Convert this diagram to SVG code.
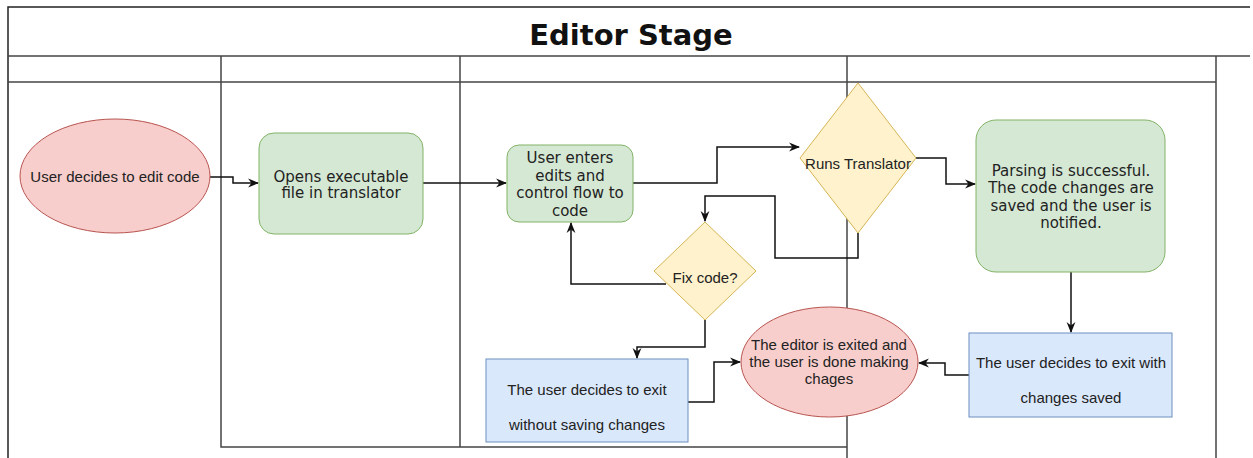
<svg xmlns="http://www.w3.org/2000/svg" width="1253" height="458" viewBox="0 0 1253 458">
<style>
.lane{stroke:#444;stroke-width:1.5;fill:none}
.frame{stroke:#222;stroke-width:1.5;fill:none}
.conn{stroke:#111;stroke-width:1.5;fill:none}
.red{fill:#f8cecc;stroke:#b85450;stroke-width:1}
.green{fill:#d5e8d4;stroke:#82b366;stroke-width:1}
.blue{fill:#dae8fc;stroke:#6c8ebf;stroke-width:1}
.yellow{fill:#fff2cc;stroke:#d6b656;stroke-width:1}
.t{font-family:"Liberation Sans",Arial,sans-serif;font-size:15px;fill:#222;text-anchor:middle}
.d{font-family:"DejaVu Sans",Verdana,sans-serif;font-size:15px;fill:#222;text-anchor:middle}
.title{font-family:"DejaVu Sans",Verdana,sans-serif;font-size:29px;font-weight:bold;fill:#111;text-anchor:middle}
</style>
<defs>
<marker id="arr" viewBox="0 0 10 10" refX="9" refY="5" markerWidth="11" markerHeight="11" markerUnits="userSpaceOnUse" orient="auto">
<path d="M0,1 L10,5 L0,9 L3,5 Z" fill="#111"/>
</marker>
</defs>
<rect x="0" y="0" width="1253" height="458" fill="#fff"/>
<g id="pool">
<path class="frame" d="M1250,7 H8 V458"/>
<path class="lane" d="M8,56 H1250"/>
<path class="lane" d="M8,82 H1216"/>
<path class="lane" d="M221,56 V447 H847"/>
<path class="lane" d="M460,56 V447"/>
<path class="lane" d="M847,56 V458"/>
<path class="lane" d="M1216,56 V458"/>
<text class="title" x="631" y="45">Editor Stage</text>
</g>
<g id="connectors">
<path class="conn" d="M210,177 H233 V183 H258" marker-end="url(#arr)"/>
<path class="conn" d="M423,183 H506" marker-end="url(#arr)"/>
<path class="conn" d="M633,183 H717 V147 H799" marker-end="url(#arr)"/>
<path class="conn" d="M916,158 H946 V184 H975" marker-end="url(#arr)"/>
<path class="conn" d="M858,233 V258 H775 V196 H705 V221" marker-end="url(#arr)"/>
<path class="conn" d="M666,284 H571 V223" marker-end="url(#arr)"/>
<path class="conn" d="M705,320 V347 H637 V358" marker-end="url(#arr)"/>
<path class="conn" d="M688,402 H714 V362 H740" marker-end="url(#arr)"/>
<path class="conn" d="M1071,272 V332" marker-end="url(#arr)"/>
<path class="conn" d="M969,375 H945 V363 H919" marker-end="url(#arr)"/>
</g>
<g id="start">
<ellipse class="red" cx="115" cy="176" rx="95" ry="57"/>
<text class="t" x="115" y="182">User decides to edit code</text>
</g>
<g id="opens">
<rect class="green" x="259" y="133" width="164" height="101" rx="15"/>
<text class="d" x="341" y="182">Opens executable</text>
<text class="d" x="341" y="198">file in translator</text>
</g>
<g id="edits">
<rect class="green" x="507" y="145" width="126" height="77" rx="12"/>
<text class="d" x="570" y="163">User enters</text>
<text class="d" x="570" y="181">edits and</text>
<text class="d" x="570" y="198">control flow to</text>
<text class="d" x="570" y="216">code</text>
</g>
<g id="runs">
<polygon class="yellow" points="858,83 916,158 858,233 800,158"/>
<text class="t" x="858" y="169">Runs Translator</text>
</g>
<g id="fix">
<polygon class="yellow" points="705,222 756,271 705,320 654,271"/>
<text class="t" x="705" y="283">Fix code?</text>
</g>
<g id="parsing">
<rect class="green" x="976" y="120" width="189" height="152" rx="20"/>
<text class="d" x="1071" y="176">Parsing is successful.</text>
<text class="d" x="1071" y="193">The code changes are</text>
<text class="d" x="1071" y="211">saved and the user is</text>
<text class="d" x="1071" y="228">notified.</text>
</g>
<g id="exitNoSave">
<rect class="blue" x="486" y="359" width="202" height="83"/>
<text class="t" x="587" y="395">The user decides to exit</text>
<text class="t" x="587" y="430">without saving changes</text>
</g>
<g id="exitSave">
<rect class="blue" x="969" y="333" width="203" height="84"/>
<text class="t" x="1071" y="368">The user decides to exit with</text>
<text class="t" x="1071" y="403">changes saved</text>
</g>
<g id="end">
<ellipse class="red" cx="829.5" cy="362" rx="88.5" ry="55"/>
<text class="t" x="829" y="350">The editor is exited and</text>
<text class="t" x="829" y="367">the user is done making</text>
<text class="t" x="829" y="384">chages</text>
</g>
</svg>
